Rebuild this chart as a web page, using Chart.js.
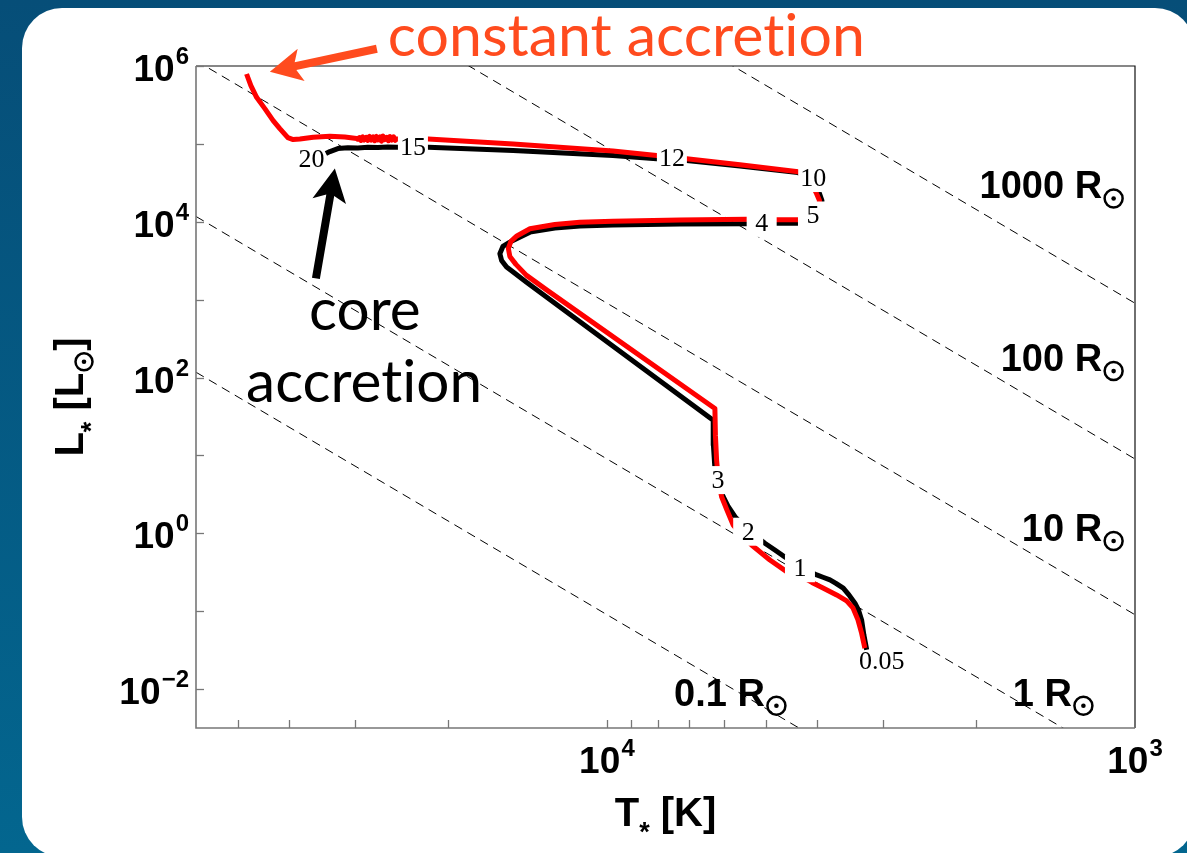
<!DOCTYPE html>
<html>
<head>
<meta charset="utf-8">
<title>Protostellar evolution in the HR diagram</title>
<script src="https://cdn.jsdelivr.net/npm/chart.js@4.4.1/dist/chart.umd.min.js"></script>
<style>
  html, body { margin: 0; padding: 0; width: 1187px; height: 853px; overflow: hidden;
    background: linear-gradient(180deg, #064e78 0%, #03668f 100%); }
  #panel { position: absolute; left: 22px; top: 8px; width: 1173px; height: 849px;
    border-radius: 40px; background: #ffffff; }
  #hr { position: absolute; left: 0; top: 0; }
</style>
</head>
<body>
<div id="panel"></div>
<canvas id="hr" width="1187" height="853"></canvas>
<script>
// ---- Core accretion track (black): effective temperature [K] and luminosity [Lsun]
const coreT = [3222, 3262, 3294, 3340, 3391, 3481, 3568, 3684, 3781, 3898, 4006, 4310, 4603, 4808, 5022,
  5408, 5722, 5899, 6023, 6165, 6245, 6286, 6291, 14200, 15050, 15490, 15830, 15950, 15740, 15270,
  13990, 12550, 11250, 9741, 7273, 5437, 5093, 4772, 4310, 4055, 3924, 3916, 3958, 4055, 4199, 4348,
  5600, 7063, 7533, 8052, 9741, 15050, 21800, 23300, 25020, 26000, 27150, 28360, 29620, 30940, 32320,
  33460, 34050];
const coreL = [0.0319, 0.0497, 0.0773, 0.1039, 0.1266, 0.1618, 0.1972, 0.2272, 0.252, 0.2729, 0.292,
  0.3698, 0.4969, 0.6107, 0.7444, 1.102, 1.633, 2.239, 2.946, 4.547, 6.874, 13.56, 28.36, 1672, 2258,
  2618, 3190, 3888, 4824, 5477, 7358, 8328, 8835, 9100, 9373, 9454, 9510, 9596, 9596, 10700, 14380,
  18760, 23060, 30970, 39240, 42860, 51940, 61080, 62900, 64230, 70790, 82070, 90450, 90450, 90450,
  91200, 89600, 90600, 88800, 89400, 87000, 79640, 75100];

// ---- Constant accretion track (red)
const constT = [3247, 3294, 3347, 3421, 3516, 3673, 3898, 4090, 4277, 4567, 4914, 5321, 5551, 5766,
  5926, 6065, 6151, 6199, 6231, 6245, 13010, 14200, 14870, 15270, 15370, 15200, 14810, 13990, 12550,
  11250, 9741, 7273, 5437, 5093, 4772, 4310, 4090, 3977, 3958, 4010, 4107, 4236, 4342, 5600, 7063,
  7533, 8052, 9741, 15050, 21800, 23300, 25020, 25180, 25350, 25590, 25760, 25940, 26120, 26360,
  26550, 26730, 26920, 27160, 27350, 27540, 27730, 27990, 28180, 28380, 28580, 28840, 29040, 29240,
  29450, 29650, 29785, 31350, 33460, 35990, 38140, 39280, 40200, 41630, 42860, 44440, 46070, 47230,
  48130];
const constL = [0.03355, 0.05223, 0.0773, 0.1103, 0.1355, 0.1618, 0.1989, 0.2339, 0.2777, 0.322,
  0.4546, 0.7079, 0.951, 1.278, 1.989, 2.946, 4.824, 8.706, 18.2, 40.06, 1336, 2049, 2836, 3591, 4548,
  5590, 6577, 8135, 9235, 9883, 10180, 10550, 10800, 10800, 10610, 10610, 11690, 14810, 18760, 23060,
  31900, 39810, 43870, 53980, 64230, 67730, 70790, 80860, 99400, 115200, 115200, 115200, 110900,
  123000, 112200, 124500, 109600, 121600, 113500, 125900, 108400, 123000, 112200, 124500, 109600,
  123000, 112200, 124500, 110900, 121600, 112200, 123000, 110900, 120200, 114800, 117500, 122200,
  125170, 121500, 115200, 113500, 120400, 157100, 198900, 283600, 395800, 559000, 789500];

// ---- Stellar mass markers along the tracks [Msun]
const massLabels = ['0.05', '1', '2', '3', '4', '5', '10', '12', '15', '20'];
const massT = [3018, 4310, 5401, 6164, 5093, 4072, 4068, 7533, 23300, 36250];
const massL = [0.0226, 0.356, 1.048, 4.82, 9660, 12040, 36420, 64800, 90400, 64200];
const massBox = [false, true, true, true, true, true, true, true, true, false];

// ---- Lines of constant stellar radius (end points at the hot and cool limits)
const radiusLabels = ['0.1 R', '1 R', '10 R', '100 R', '1000 R'];
const dashT = [60000, 1000];
const dashHotL = [117, 1.17e4, 1.17e6, 1.17e8, 1.17e10];
const dashCoolL = [9e-6, 9e-4, 0.09, 9, 900];
const radiusLabelT = [4542, 1191, 1044, 1044, 1044];
const radiusLabelL = [0.00611, 0.00611, 0.797, 121, 19900];

// ---- Axes
const xTickVals = [50000, 40000, 30000, 20000, 10000, 9000, 8000, 7000, 6000, 5000, 4000, 3000, 2000];
const yTickVals = [1e-2, 1e-1, 1, 10, 1e2, 1e3, 1e4, 1e5, 1e6];
const xLabelPowers = [4, 3];
const yLabelPowers = [6, 4, 2, 0, -2];

// ---- Annotation anchors (T, L)
const constTextAt = [25990, 1.355e6];
const constArrow = [[27270, 1.667e6], [43480, 845000]];
const coreTextAt = [[28730, 404], [28830, 48.7]];
const coreArrow = [[35570, 1875], [32750, 48200]];

const SANS = '"Liberation Sans", Arial, Helvetica, sans-serif';
const HUMANIST = 'Lato, "Open Sans", sans-serif';
const ORANGE = '#ff4b1e';
const ZWNJ = '\u200C'; // keeps "t" and "i" as separate glyphs

function sunSymbol(ctx, cx, cy, r) {
  ctx.beginPath();
  ctx.lineWidth = 2.5;
  ctx.arc(cx, cy, r, 0, Math.PI * 2);
  ctx.stroke();
  ctx.beginPath();
  ctx.arc(cx, cy, 2.3, 0, Math.PI * 2);
  ctx.fill();
}

// Draws a row of text pieces (with optional sun symbols) centred on, or ending at, cx.
function drawParts(ctx, parts, cx, base, align) {
  let total = 0;
  parts.forEach(p => {
    if (p.sun) { p.w = 2 * p.r + 5; }
    else { ctx.font = p.f; p.w = ctx.measureText(p.t).width; }
    total += p.w;
  });
  let xx = align === 'right' ? cx - total : cx - total / 2;
  ctx.textAlign = 'left';
  ctx.textBaseline = 'alphabetic';
  parts.forEach(p => {
    if (p.sun) sunSymbol(ctx, xx + p.w / 2, base + (p.dy || 0), p.r);
    else { ctx.font = p.f; ctx.fillText(p.t, xx, base + (p.dy || 0)); }
    xx += p.w;
  });
}

function powLabel(ctx, exp, x0, base, align) {
  const sup = String(exp).replace('-', '\u2212');
  drawParts(ctx, [
    { t: '10', f: 'bold 37px ' + SANS },
    { t: ' ', f: 'bold 4px ' + SANS },
    { t: sup, f: 'bold 24px ' + SANS, dy: -17 }
  ], x0, base, align);
}

function arrow(ctx, x1, y1, x2, y2, color, shaftW, headL, headW) {
  const ang = Math.atan2(y2 - y1, x2 - x1);
  const len = Math.hypot(x2 - x1, y2 - y1);
  ctx.save();
  ctx.translate(x2, y2);
  ctx.rotate(ang);
  ctx.fillStyle = color;
  ctx.beginPath();
  ctx.moveTo(-len, -shaftW / 2);
  ctx.lineTo(-headL * 0.82, -shaftW / 2);
  ctx.lineTo(-headL, -headW / 2);
  ctx.lineTo(0, 0);
  ctx.lineTo(-headL, headW / 2);
  ctx.lineTo(-headL * 0.82, shaftW / 2);
  ctx.lineTo(-len, shaftW / 2);
  ctx.closePath();
  ctx.fill();
  ctx.restore();
}

function fitFont(ctx, family, text, width) {
  ctx.font = '100px ' + family;
  return 100 * width / ctx.measureText(text).width;
}

const hrDecor = {
  id: 'hrDecor',
  afterDatasetsDraw(chart) {
    const { ctx, chartArea: a, scales: { x, y } } = chart;
    const X = v => x.getPixelForValue(v);
    const Y = v => y.getPixelForValue(v);
    ctx.save();

    // mass markers on the tracks
    ctx.font = '26px "Liberation Serif", "Times New Roman", serif';
    ctx.textAlign = 'center';
    ctx.textBaseline = 'middle';
    massLabels.forEach((s, i) => {
      const px = X(massT[i]), py = Y(massL[i]);
      const w = Math.max(30, ctx.measureText(s).width + 4);
      if (massBox[i]) { ctx.fillStyle = '#fff'; ctx.fillRect(px - w / 2, py - 14, w, 28); }
      ctx.fillStyle = '#000';
      ctx.fillText(s, px, py + 1);
    });

    // frame
    ctx.lineWidth = 1.2;
    ctx.strokeStyle = '#111';
    ctx.beginPath();
    ctx.moveTo(a.left, a.top); ctx.lineTo(a.right, a.top); ctx.lineTo(a.right, a.bottom);
    ctx.stroke();
    ctx.lineWidth = 1.6;
    ctx.strokeStyle = '#777';
    ctx.beginPath();
    ctx.moveTo(a.left, a.top); ctx.lineTo(a.left, a.bottom); ctx.lineTo(a.right, a.bottom);
    ctx.stroke();

    // inward tick marks
    ctx.lineWidth = 1.3;
    yTickVals.forEach(v => {
      const py = Math.round(Y(v)) + 0.5;
      ctx.beginPath(); ctx.moveTo(a.left, py); ctx.lineTo(a.left + 8, py); ctx.stroke();
    });
    xTickVals.forEach(v => {
      const px = Math.round(X(v)) + 0.5;
      ctx.beginPath(); ctx.moveTo(px, a.bottom); ctx.lineTo(px, a.bottom - 8); ctx.stroke();
    });

    // tick labels
    ctx.fillStyle = '#000';
    ctx.strokeStyle = '#000';
    yLabelPowers.forEach(p => powLabel(ctx, p, a.left - 7, Y(Math.pow(10, p)) + 15, 'right'));
    xLabelPowers.forEach(p => powLabel(ctx, p, X(Math.pow(10, p)), a.bottom + 45, 'center'));

    // axis titles
    const big = 'bold 40px ' + SANS, small = 'bold 27px ' + SANS;
    drawParts(ctx, [
      { t: 'T', f: big }, { t: '*', f: small, dy: 15 }, { t: ' [K]', f: big }
    ], (a.left + a.right) / 2, a.bottom + 98, 'center');
    ctx.save();
    ctx.translate(a.left - 113, (a.top + a.bottom) / 2);
    ctx.rotate(-Math.PI / 2);
    drawParts(ctx, [
      { t: 'L', f: big }, { t: '*', f: small, dy: 17 }, { t: ' [L', f: big },
      { sun: true, r: 8.5, dy: 1 }, { t: ']', f: big }
    ], 0, 0, 'center');
    ctx.restore();

    // radius labels
    radiusLabels.forEach((s, i) => {
      drawParts(ctx, [
        { t: s, f: 'bold 38px ' + SANS }, { sun: true, r: 9, dy: 0 }
      ], X(radiusLabelT[i]), Y(radiusLabelL[i]), 'right');
    });

    // annotations
    ctx.fillStyle = ORANGE;
    ctx.textAlign = 'left';
    ctx.textBaseline = 'alphabetic';
    const constText = 'constant accret' + ZWNJ + 'ion';
    const fsConst = fitFont(ctx, HUMANIST, constText, 477);
    ctx.font = fsConst + 'px ' + HUMANIST;
    ctx.fillText(constText, X(constTextAt[0]), Y(constTextAt[1]));
    arrow(ctx, X(constArrow[0][0]), Y(constArrow[0][1]), X(constArrow[1][0]), Y(constArrow[1][1]),
      ORANGE, 8, 32, 33);

    ctx.fillStyle = '#000';
    const accText = 'accret' + ZWNJ + 'ion';
    const fsCore = fitFont(ctx, HUMANIST, accText, 236);
    ctx.font = fsCore + 'px ' + HUMANIST;
    ctx.textAlign = 'center';
    ctx.fillText('core', X(coreTextAt[0][0]), Y(coreTextAt[0][1]));
    ctx.fillText(accText, X(coreTextAt[1][0]), Y(coreTextAt[1][1]));
    arrow(ctx, X(coreArrow[0][0]), Y(coreArrow[0][1]), X(coreArrow[1][0]), Y(coreArrow[1][1]),
      '#000', 8, 33, 34);

    ctx.restore();
  }
};

const toXY = (ts, ls) => ts.map((t, i) => ({ x: t, y: ls[i] }));

const radiusSets = radiusLabels.map((r, i) => ({
  label: r,
  data: [{ x: dashT[0], y: dashHotL[i] }, { x: dashT[1], y: dashCoolL[i] }],
  borderColor: '#000',
  borderWidth: 1,
  borderDash: [9, 6],
  order: 3
}));

new Chart(document.getElementById('hr'), {
  type: 'scatter',
  data: {
    datasets: [
      { label: 'constant accretion', data: toXY(constT, constL), borderColor: '#ff0000', borderWidth: 5, order: 0 },
      { label: 'core accretion', data: toXY(coreT, coreL), borderColor: '#000000', borderWidth: 5, order: 1 },
      ...radiusSets
    ]
  },
  options: {
    responsive: false,
    animation: false,
    events: [],
    layout: { padding: { left: 196, top: 66, right: 52, bottom: 125 } },
    datasets: {
      scatter: { showLine: true, pointRadius: 0, fill: false, borderJoinStyle: 'round', borderCapStyle: 'butt' }
    },
    scales: {
      x: { type: 'logarithmic', min: 1000, max: 60000, reverse: true, display: false },
      y: { type: 'logarithmic', min: Math.pow(10, -2.5), max: 1e6, display: false }
    },
    plugins: { legend: { display: false }, tooltip: { enabled: false } }
  },
  plugins: [hrDecor]
});
</script>
</body>
</html>
